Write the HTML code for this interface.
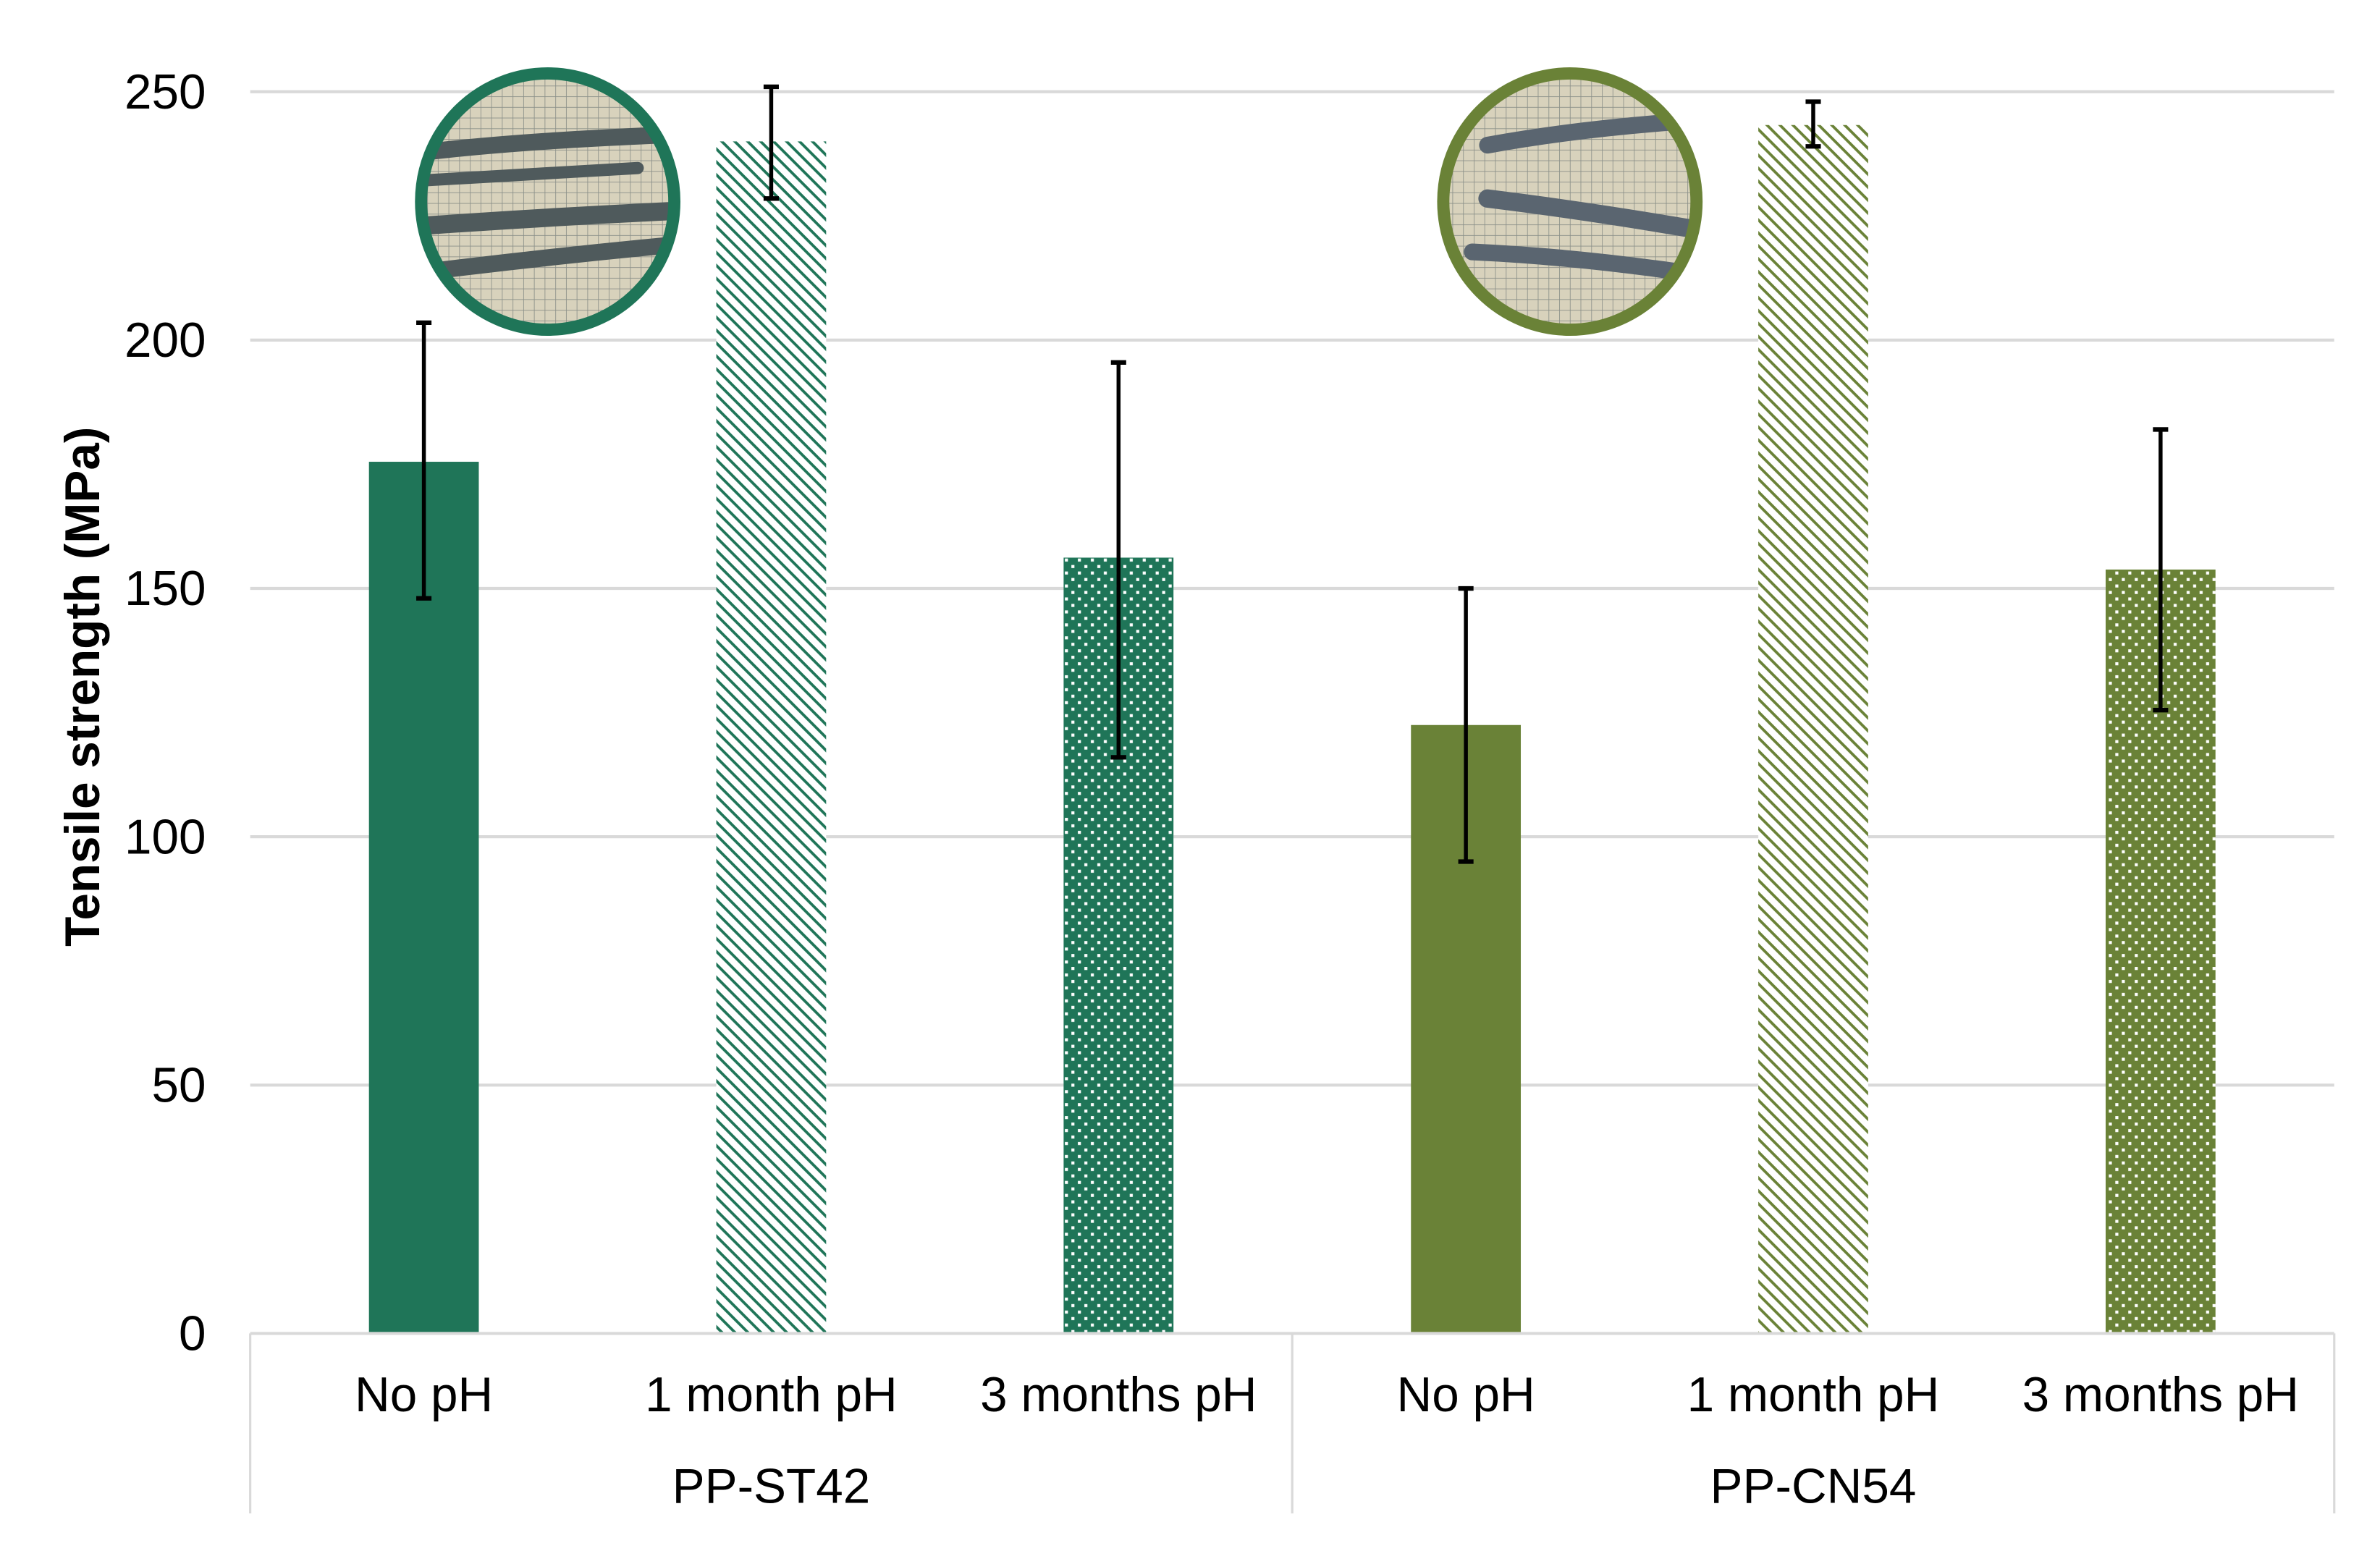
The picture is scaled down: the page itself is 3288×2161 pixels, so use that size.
<!DOCTYPE html>
<html><head><meta charset="utf-8"><style>
html,body{margin:0;padding:0;background:#fff;}
svg{display:block;font-family:"Liberation Sans",Arial,sans-serif;}
</style></head><body>
<svg id="chart" width="3288" height="2161" viewBox="0 0 1560 1025" xmlns="http://www.w3.org/2000/svg">
<defs>
<pattern id="hatchG" patternUnits="userSpaceOnUse" width="6" height="6" patternTransform="rotate(45)">
<rect width="6" height="6" fill="#fff"/><rect x="0" y="0" width="6" height="1.8" fill="#1f7558"/></pattern>
<pattern id="hatchO" patternUnits="userSpaceOnUse" width="6" height="6" patternTransform="rotate(45)">
<rect width="6" height="6" fill="#fff"/><rect x="0" y="0" width="6" height="1.8" fill="#6a8237"/></pattern>
<pattern id="dotsG" patternUnits="userSpaceOnUse" width="8.5" height="8.5">
<rect width="8.5" height="8.5" fill="#1f7558"/><rect x="1" y="0.5" width="2" height="2" fill="#fff"/><rect x="5.25" y="4.75" width="2" height="2" fill="#fff"/></pattern>
<pattern id="dotsO" patternUnits="userSpaceOnUse" width="8.5" height="8.5">
<rect width="8.5" height="8.5" fill="#6a8237"/><rect x="1" y="0.5" width="2" height="2" fill="#fff"/><rect x="5.25" y="4.75" width="2" height="2" fill="#fff"/></pattern>
<pattern id="grid" patternUnits="userSpaceOnUse" width="7" height="7">
<rect width="7" height="7" fill="#d8d2bc"/><path d="M0 0H7M0 0V7" stroke="#8a8f88" stroke-width="0.8"/></pattern>
<clipPath id="c1"><ellipse cx="359" cy="132" rx="80" ry="81"/></clipPath>
<clipPath id="c2"><ellipse cx="1029" cy="132" rx="80" ry="81"/></clipPath>
</defs>
<g id="grid-lines"></g>
<g id="bars"></g>
<g id="errs"></g>
<g id="yticks"></g>
<g id="xaxis"></g>
<text x="0" y="0" transform="translate(65,450) rotate(-90)" text-anchor="middle" font-size="32" font-weight="bold">Tensile strength (MPa)</text>
<g>
<ellipse cx="359" cy="132" rx="82" ry="83" fill="url(#grid)"/>
<g clip-path="url(#c1)" stroke="#4f5a5c" stroke-linecap="round" fill="none">
<path d="M275 100 Q340 92 445 88" stroke-width="11"/>
<path d="M280 118 Q350 114 418 110" stroke-width="8"/>
<path d="M275 148 Q360 142 445 138" stroke-width="12"/>
<path d="M280 178 Q360 168 445 160" stroke-width="11"/>
</g>
<ellipse cx="359" cy="132" rx="83" ry="84" fill="none" stroke="#1f7558" stroke-width="8"/>
</g>
<g>
<ellipse cx="1029" cy="132" rx="82" ry="83" fill="url(#grid)"/>
<g clip-path="url(#c2)" stroke="#5a6570" stroke-linecap="round" fill="none">
<path d="M975 95 Q1030 85 1095 80" stroke-width="11"/>
<path d="M975 130 Q1040 138 1110 150" stroke-width="12"/>
<path d="M965 165 Q1030 168 1100 178" stroke-width="11"/>
</g>
<ellipse cx="1029" cy="132" rx="83" ry="84" fill="none" stroke="#6a8237" stroke-width="8"/>
</g>
</svg>
<script>
const categories = ["No pH","1 month pH","3 months pH","No pH","1 month pH","3 months pH"];
const groups = ["PP-ST42","PP-CN54"];
const values = [175.5, 240, 156.2, 122.5, 243.3, 153.8];
const errLow = [148, 228.5, 116, 95, 239, 125.5];
const errHigh = [203.5, 251, 195.5, 150, 248, 182];
const yTicks = [0,50,100,150,200,250];
const fills = ["#1f7558","url(#hatchG)","url(#dotsG)","#6a8237","url(#hatchO)","url(#dotsO)"];
const NS="http://www.w3.org/2000/svg";
const X0=164,X1=1530,Y0=874,YT=60,YMAX=250;
const y=v=>Y0-(v/YMAX)*(Y0-YT);
const band=(X1-X0)/categories.length;
const xc=i=>X0+band*(i+0.5);
function mk(t,a,p){const e=document.createElementNS(NS,t);for(const k in a)e.setAttribute(k,a[k]);p.appendChild(e);return e;}
const gl=document.getElementById('grid-lines'),yt=document.getElementById('yticks');
yTicks.forEach(v=>{
 if(v>0){const l=mk('line',{x1:X0,x2:X1,y1:y(v),y2:y(v),stroke:'#d9d9d9','stroke-width':2},gl);
 
 }
 const t=mk('text',{x:135,y:y(v)+11,'text-anchor':'end','font-size':32},yt);t.textContent=v;
 
 
});
const bg=document.getElementById('bars'),eg=document.getElementById('errs');
values.forEach((v,i)=>{
 const r=mk('rect',{x:xc(i)-36,y:y(v),width:72,height:Y0-y(v),fill:fills[i]},bg);
 
 
 const g=mk('g',{stroke:'#000'},eg);
 
 
 mk('line',{x1:xc(i),x2:xc(i),y1:y(errHigh[i]),y2:y(errLow[i]),'stroke-width':2.6},g);
 mk('line',{x1:xc(i)-5,x2:xc(i)+5,y1:y(errHigh[i]),y2:y(errHigh[i]),'stroke-width':3},g);
 mk('line',{x1:xc(i)-5,x2:xc(i)+5,y1:y(errLow[i]),y2:y(errLow[i]),'stroke-width':3},g);
});
const xa=document.getElementById('xaxis');
mk('line',{x1:X0,x2:X1,y1:Y0,y2:Y0,stroke:'#d9d9d9','stroke-width':2},xa);
[X0,(X0+X1)/2,X1].forEach(x=>mk('line',{x1:x,x2:x,y1:Y0,y2:992,stroke:'#d9d9d9','stroke-width':1.5},xa));
categories.forEach((c,i)=>{const t=mk('text',{x:xc(i),y:925,'text-anchor':'middle','font-size':32},xa);t.textContent=c;
 
 });
groups.forEach((g,j)=>{const t=mk('text',{x:X0+(X1-X0)/4*(2*j+1),y:985,'text-anchor':'middle','font-size':32},xa);t.textContent=g;
 
 });
</script>
</body></html>
